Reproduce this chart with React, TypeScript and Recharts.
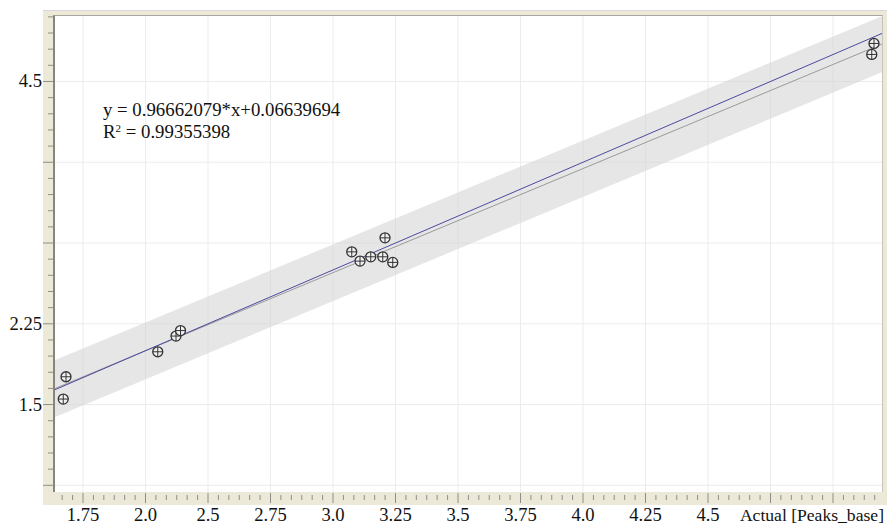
import React from 'react'
import { ComposedChart, Area, Line, Scatter, XAxis, YAxis, CartesianGrid } from 'recharts'

const actual = [1.671, 1.682, 2.049, 2.122, 2.14, 2.825, 2.858, 2.901, 2.958, 2.949, 2.989, 4.914, 4.905]
const predicted = [1.551, 1.758, 1.99, 2.136, 2.187, 2.918, 2.832, 2.872, 3.048, 2.872, 2.82, 4.853, 4.751]

// regression shown on the chart
const slope = 0.96662079
const intercept = 0.06639694
const r2 = 0.99355398

// visible ranges and the grey confidence band at both ends
const xRange = [1.634, 4.95]
const yRange = [0.688, 5.108]
const bandLow = [1.38, 4.59]
const bandHigh = [1.91, 5.11]

// major ticks and their labels (the chart really prints them like this)
const xMajor = [1.75, 2, 2.25, 2.5, 2.75, 3, 3.25, 3.5, 3.75, 4, 4.25, 4.5, 4.75]
const xLabels = ['1.75', '2.0', '2.5', '2.75', '3.0', '3.25', '3.5', '3.75', '4.0', '4.25', '4.5', '', '']
const yMajor = [0.75, 1.5, 2.25, 3, 3.75, 4.5]
const yLabels = ['', '1.5', '2.25', '', '', '4.5']

const xMinorPerMajor = 6
const yMinorPerMajor = 5

const xTicks: number[] = []
for (let i = -2; 1.75 + (i * 0.25) / xMinorPerMajor <= xRange[1]; i++) xTicks.push(1.75 + (i * 0.25) / xMinorPerMajor)
const yTicks: number[] = []
for (let j = 0; 0.75 + (j * 0.75) / yMinorPerMajor <= yRange[1]; j++) yTicks.push(0.75 + (j * 0.75) / yMinorPerMajor)

const lineData = xRange.map((x, i) => ({
  x,
  band: [bandLow[i], bandHigh[i]],
  fit: slope * x + intercept,
  ident: x,
}))
const points = actual.map((x, i) => ({ x, y: predicted[i] }))

const serif = { fontFamily: 'Liberation Serif, DejaVu Serif, serif' }

const XTick = (p: any) => {
  const i = p.index - 2
  const major = i % xMinorPerMajor === 0
  const k = i / xMinorPerMajor
  return (
    <g>
      <line x1={p.x} x2={p.x} y1={p.y + (major ? 1 : 3)} y2={p.y + (major ? 11 : 8)} stroke="#8e8e88" />
      {major && xLabels[k] ? (
        <text x={p.x} y={p.y + 29} textAnchor="middle" fontSize={18.6} style={serif} fill="#111">
          {xLabels[k]}
        </text>
      ) : null}
    </g>
  )
}

const YTick = (p: any) => {
  const j = p.index
  const major = j % yMinorPerMajor === 0
  const k = j / yMinorPerMajor
  return (
    <g>
      <line x1={p.x - (major ? 11 : 6)} x2={p.x} y1={p.y} y2={p.y} stroke="#8e8e88" />
      {major && yLabels[k] ? (
        <text x={p.x - 12} y={p.y + 6} textAnchor="end" fontSize={18.6} style={serif} fill="#111">
          {yLabels[k]}
        </text>
      ) : null}
    </g>
  )
}

const Marker = (p: any) => {
  const { cx, cy } = p
  return (
    <g>
      <circle cx={cx} cy={cy} r={5} fill="#f0f0f0" stroke="#333" strokeWidth={1.3} />
      <line x1={cx - 5} x2={cx + 5} y1={cy} y2={cy} stroke="#333" strokeWidth={1} />
      <line x1={cx} x2={cx} y1={cy - 5} y2={cy + 5} stroke="#333" strokeWidth={1} />
    </g>
  )
}

export default function App() {
  return (
    <div style={{ position: 'absolute', left: 0, top: 0, width: 896, height: 525, background: '#fff' }}>
      <div style={{ position: 'absolute', left: 43, top: 10, width: 844, height: 494, background: '#ece9d8', borderTop: '1px solid #d6d6dc' }} />
      <div style={{ position: 'absolute', left: 0, top: 0 }}>
        <ComposedChart width={896} height={525} data={lineData} margin={{ top: 16, right: 13, bottom: 0, left: 0 }}>
          <CartesianGrid
            fill="#ffffff"
            stroke="#ececec"
            horizontalValues={yMajor}
            verticalValues={xMajor}
          />
          <XAxis
            dataKey="x"
            type="number"
            domain={xRange}
            allowDataOverflow
            ticks={xTicks}
            interval={0}
            height={33}
            tickSize={0}
            tickMargin={0}
            tickLine={false}
            axisLine={false}
            tick={<XTick />}
          />
          <YAxis
            type="number"
            domain={yRange}
            allowDataOverflow
            ticks={yTicks}
            interval={0}
            width={54}
            tickSize={0}
            tickMargin={0}
            tickLine={false}
            axisLine={false}
            tick={<YTick />}
          />
          <Area dataKey="band" type="linear" fill="#d6d6d6" fillOpacity={0.6} stroke="none" isAnimationActive={false} />
          <Line dataKey="fit" type="linear" stroke="#9a9a9a" strokeWidth={1} dot={false} isAnimationActive={false} />
          <Line dataKey="ident" type="linear" stroke="#4a4aa0" strokeWidth={1} dot={false} isAnimationActive={false} />
          <Scatter data={points} dataKey="y" shape={<Marker />} isAnimationActive={false} />
        </ComposedChart>
      </div>
      <div
        style={{
          position: 'absolute',
          left: 53,
          top: 15,
          width: 830,
          height: 477,
          boxSizing: 'border-box',
          borderTop: '1px solid #a8a8a0',
          borderRight: '1px solid #c4c4bc',
          borderLeft: '2px solid #86867f',
          pointerEvents: 'none',
        }}
      />
      <svg width={896} height={525} style={{ position: 'absolute', left: 0, top: 0, pointerEvents: 'none' }}>
        <text x={103} y={116} fontSize={18.8} style={serif} fill="#111">
          {`y = ${slope}*x+${intercept}`}
        </text>
        <text x={103} y={138} fontSize={18.8} style={serif} fill="#111">
          R<tspan dy={-6} fontSize={11}>2</tspan>
          <tspan dy={6}>{` = ${r2}`}</tspan>
        </text>
        <text x={884} y={521} textAnchor="end" fontSize={17.6} style={serif} fill="#111">
          Actual [Peaks_base]
        </text>
      </svg>
    </div>
  )
}
